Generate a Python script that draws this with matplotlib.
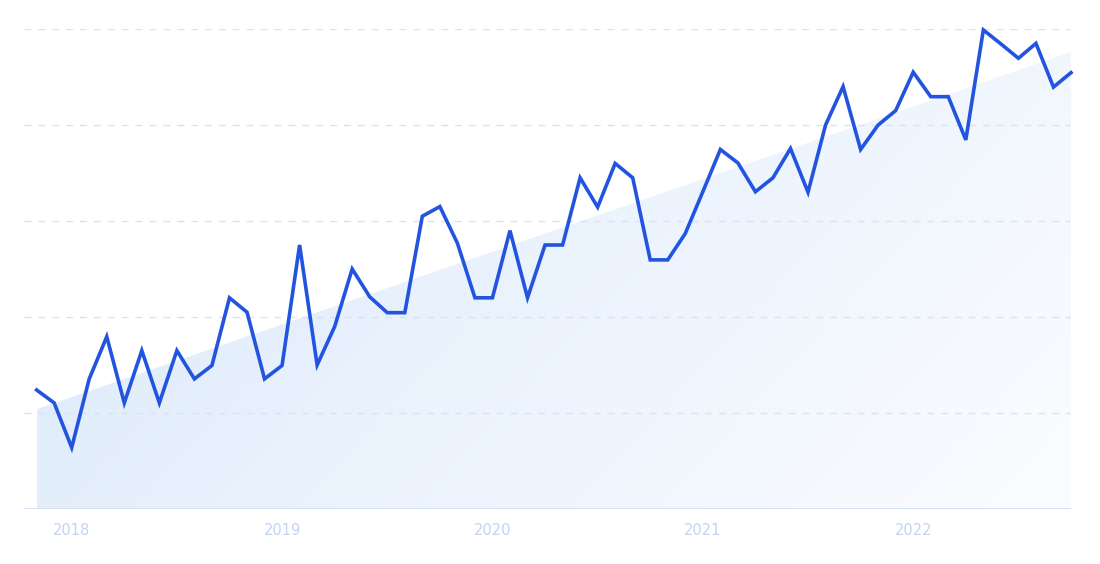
import numpy as np
import matplotlib.pyplot as plt
from matplotlib.colors import LinearSegmentedColormap
from matplotlib.patches import Polygon

# monthly values, Nov 2017 .. Oct 2022
values = [24.8, 22.1, 12.8, 27.1, 35.9, 22.1, 33.0, 22.1, 33.0, 27.1,
          29.9, 44.0, 41.0, 27.1, 29.9, 55.0, 30.0, 38.0, 50.0, 44.2,
          40.9, 40.9, 61.0, 63.0, 55.4, 44.0, 44.0, 58.0, 44.0, 55.0,
          55.0, 69.0, 62.9, 72.0, 69.0, 51.9, 51.9, 57.4, 66.1, 74.9,
          72.1, 66.1, 69.0, 75.1, 66.0, 80.0, 88.0, 74.9, 80.0, 83.0,
          91.0, 85.9, 85.9, 76.9, 99.8, 96.9, 93.9, 97.0, 87.9, 90.9]
trend = [20.8, 95.2]  # trend line start / end
years = ['2018', '2019', '2020', '2021', '2022']
year_idx = [2, 14, 26, 38, 50]  # January positions in the month index

x = np.arange(len(values))

fig = plt.figure(figsize=(11, 5.64), dpi=100)
ax = fig.add_axes([24 / 1100, 55 / 564, 1047 / 1100, 480 / 564])
ax.set_xlim(-0.72, len(values) - 1)
ax.set_ylim(0, 100)

# gradient area under the trend line (darker top-left, lighter bottom-right)
cmap = LinearSegmentedColormap.from_list('g', ['#d9e8fa', '#ebf3fd', '#fbfcff'])
gx, gy = np.meshgrid(np.linspace(0, 1, 300), np.linspace(0, 1, 150))
grad = 0.7 * gx + 0.3 * (1 - gy)
poly = Polygon([(0, 0), (0, trend[0]), (x[-1], trend[1]), (x[-1], 0)],
               closed=True, facecolor='none', edgecolor='none')
ax.add_patch(poly)
im = ax.imshow(grad, extent=[0, x[-1], 100, 0], cmap=cmap, aspect='auto',
               vmin=0, vmax=1, zorder=1)
im.set_clip_path(poly)

for g in [20, 40, 60, 80, 100]:
    ax.axhline(g, color='#d8e3f8', lw=1, dashes=(5, 5), zorder=2)
ax.axhline(0, color='#d3e0f8', lw=1.3, zorder=2)

ax.plot(x, values, color='#2354e0', lw=2.6, solid_joinstyle='miter',
        zorder=3, clip_on=False)

for s in ax.spines.values():
    s.set_visible(False)
ax.set_yticks([])
ax.set_xticks(year_idx)
ax.set_xticklabels(years)
ax.tick_params(axis='x', length=0, pad=10, labelsize=10.5, labelcolor='#c3d3f4')

fig.savefig('out.png', dpi=100)
